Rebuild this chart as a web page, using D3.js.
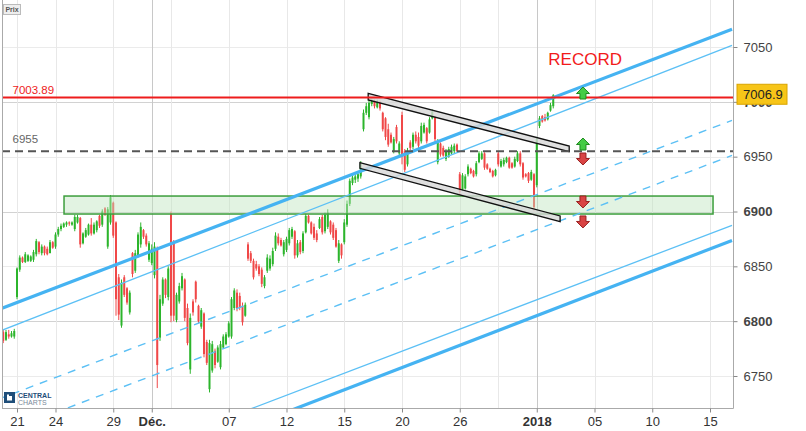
<!DOCTYPE html>
<html><head><meta charset="utf-8">
<script src="https://cdn.jsdelivr.net/npm/d3@7"></script>
<style>body{margin:0;background:#fff}svg{display:block;font-family:"Liberation Sans",Arial,sans-serif}</style>
</head><body><svg id="c" width="806" height="431"></svg>
<script>
// hourly bars [open, high, low, close], 7 bars per trading day, 20 Nov 2017 -> 2 Jan 2018
const candles = [
[6785,6790,6781,6788],[6788,6792,6783,6786],[6790,6792,6780,6782],[6783,6792,6782,6790],[6788,6792,6784,6786],[6786,6791,6785,6789],[6786,6793,6784,6791],
[6822,6849,6820,6848],[6847,6860,6845,6858],[6858,6859,6853,6854],[6854,6863,6853,6861],[6855,6861,6854,6860],[6855,6860,6854,6859],[6856,6865,6854,6863],
[6861,6875,6859,6873],[6872,6873,6861,6863],[6862,6870,6860,6868],[6868,6869,6860,6862],[6866,6868,6860,6861],[6862,6874,6862,6872],[6872,6873,6866,6867],
[6868,6881,6866,6879],[6879,6886,6877,6884],[6884,6889,6882,6887],[6886,6890,6885,6889],[6888,6891,6886,6890],[6890,6891,6887,6889],[6888,6891,6887,6890],
[6884,6897,6882,6895],[6890,6897,6889,6895],[6894,6895,6867,6870],[6871,6881,6870,6880],[6877,6885,6876,6883],[6879,6889,6878,6888],[6888,6894,6878,6880],
[6880,6890,6879,6888],[6883,6892,6881,6891],[6896,6897,6885,6887],[6888,6902,6886,6900],[6903,6904,6896,6897],[6868,6904,6866,6902],[6890,6915,6888,6913],
[6908,6909,6876,6878],[6890,6891,6805,6820],[6840,6843,6801,6806],[6796,6838,6794,6835],[6840,6842,6822,6824],[6830,6831,6815,6817],[6808,6828,6806,6826],
[6862,6863,6840,6843],[6846,6865,6844,6862],[6860,6881,6858,6879],[6870,6890,6867,6886],[6883,6884,6875,6877],[6878,6880,6868,6870],[6856,6873,6854,6871],
[6853,6870,6851,6866],[6842,6872,6839,6868],[6866,6868,6739,6760],[6785,6824,6782,6820],[6816,6840,6814,6838],[6838,6839,6821,6824],[6822,6850,6819,6848],
[6898,6900,6799,6805],[6872,6874,6800,6805],[6801,6826,6799,6824],[6818,6835,6816,6832],[6830,6844,6828,6841],[6838,6839,6800,6803],[6812,6816,6778,6780],
[6756,6807,6752,6803],[6818,6820,6805,6808],[6836,6837,6817,6820],[6814,6815,6798,6800],[6795,6812,6793,6810],[6807,6808,6767,6770],[6781,6783,6760,6762],
[6738,6783,6735,6780],[6755,6782,6753,6779],[6773,6775,6757,6760],[6763,6778,6762,6776],[6758,6782,6756,6779],[6776,6788,6775,6786],[6779,6790,6778,6788],
[6786,6800,6785,6798],[6786,6822,6784,6820],[6812,6830,6810,6828],[6826,6829,6809,6811],[6823,6826,6810,6812],[6814,6817,6796,6799],[6805,6817,6804,6815],
[6870,6872,6855,6857],[6862,6864,6853,6855],[6855,6857,6838,6840],[6852,6855,6846,6848],[6850,6852,6841,6843],[6847,6849,6831,6834],[6832,6842,6830,6840],
[6846,6861,6844,6858],[6848,6860,6846,6857],[6852,6867,6850,6864],[6866,6881,6864,6878],[6877,6880,6869,6871],[6874,6876,6868,6869],[6861,6874,6859,6872],
[6865,6877,6863,6875],[6871,6885,6869,6883],[6877,6886,6875,6884],[6882,6883,6857,6860],[6860,6874,6858,6871],[6872,6874,6861,6863],[6864,6882,6862,6880],
[6881,6898,6880,6896],[6896,6897,6889,6890],[6890,6891,6879,6880],[6886,6889,6874,6876],[6880,6883,6872,6874],[6885,6895,6884,6893],[6895,6897,6879,6881],
[6882,6899,6880,6897],[6886,6902,6884,6899],[6891,6892,6879,6881],[6888,6890,6874,6876],[6883,6885,6867,6868],[6855,6874,6853,6871],[6870,6871,6857,6860],
[6872,6893,6870,6890],[6888,6910,6886,6907],[6907,6930,6905,6928],[6926,6933,6924,6931],[6929,6934,6926,6932],[6930,6935,6927,6934],[6932,6946,6930,6944],
[6975,6993,6973,6990],[6990,6999,6988,6996],[6986,7002,6984,6999],[6998,7003,6996,7001],[7001,7002,6994,6996],[6995,7002,6994,7000],[7000,7001,6992,6994],
[6990,6991,6973,6975],[6985,6986,6965,6968],[6975,6980,6959,6961],[6970,6972,6962,6963],[6955,6968,6953,6966],[6977,6979,6962,6964],[6953,6964,6951,6962],
[6988,6991,6943,6950],[6955,6957,6936,6938],[6943,6958,6941,6955],[6963,6965,6956,6958],[6959,6972,6957,6970],[6970,6973,6962,6964],[6968,6972,6958,6960],
[6964,6981,6962,6978],[6972,6981,6971,6979],[6976,6977,6962,6964],[6972,6986,6971,6984],[6985,6993,6984,6991],[6986,6987,6964,6966],[6945,6966,6943,6963],
[6962,6963,6950,6952],[6958,6960,6950,6951],[6948,6957,6946,6955],[6950,6959,6949,6957],[6953,6961,6952,6959],[6955,6962,6953,6960],[6961,6962,6954,6955],
[6934,6936,6915,6918],[6920,6935,6919,6933],[6921,6934,6920,6932],[6934,6943,6932,6941],[6939,6940,6934,6935],[6937,6938,6931,6932],[6934,6946,6932,6944],
[6945,6955,6944,6953],[6948,6955,6947,6953],[6953,6954,6938,6940],[6943,6944,6938,6939],[6939,6940,6935,6936],[6937,6938,6931,6932],[6933,6939,6932,6938],
[6953,6955,6941,6943],[6941,6948,6940,6946],[6943,6949,6941,6947],[6945,6950,6944,6949],[6949,6950,6939,6940],[6944,6945,6939,6940],[6941,6950,6940,6948],
[6946,6955,6945,6953],[6953,6955,6941,6943],[6944,6945,6929,6931],[6934,6935,6931,6932],[6935,6936,6926,6928],[6929,6938,6928,6936],[6934,6935,6900,6904],
[6924,6968,6922,6966],[6978,6987,6976,6985],[6987,6988,6981,6982],[6986,6989,6982,6983],[6984,6991,6983,6990],[6992,6999,6991,6997],[6996,7007,6994,7006]
];
// x ticks: bar index of first bar of the day, label
const xTickBars   = [7, 21, 42, 56, 84, 105, 126, 147, 168, 196, 217, 238, 259];
const xTickLabels = ["21","24","29","Déc.","07","12","15","20","26","2018","05","10","15"];
const xBoldLabels = ["Déc.","2018"];
const xExtraGrid  = [63, 182];
const yTicks      = [6750, 6800, 6850, 6900, 6950, 7000, 7050];
const yBoldTicks  = [6800, 6900, 7000];
const recordLevel = 7003.89;
const supportLevel = 6955;
const lastPrice = 7006.9;
// trend lines: [bar, price] pairs
const upperThick = [[0,6810.3],[267,7066.2]];
const upperThin  = [[0,6790.25],[267,7051.45]];
const midDash1   = [[0,6728.6],[267,6983.1]];
const midDash2   = [[0,6696.7],[267,6951.1]];
const lowerThin  = [[0,6632.1],[267,6887.4]];
const lowerThick = [[0,6615.7],[267,6873.6]];
// descending bands (polygons in [bar, price])
const upperBand = [[134.7,7007.8],[207.8,6959.7],[207.8,6954.5],[134.7,7001.7]];
const lowerBand = [[131.7,6944.5],[204.5,6895.9],[204.5,6890.8],[131.7,6939.4]];
// support zone
const zoneBars = [24.1, 260.1];
const zonePrices = [6897.7, 6914.1];
// arrows: bar, tip price, direction
const arrowBars = [212.8, 212.8, 212.8, 212.8, 212.8];
const arrowTips = [7013.5, 6967.0, 6942.4, 6903.2, 6885.0];
const arrowDirs = ["up","up","down","down","down"];
const recordText = "RECORD";
const recordAt = [200.2, 7033.5];

const svg = d3.select("#c");
const L = 2, R = 733, T = 0, B = 408;
const x = d3.scaleLinear().domain([0, 267.36]).range([-2.25, 733]);
const y = d3.scaleLinear().domain([6750, 7050]).range([376, 47]);

svg.append("defs").append("clipPath").attr("id","clip")
  .append("rect").attr("x",L).attr("y",T).attr("width",R-L).attr("height",B-T);

// grid
const grid = svg.append("g");
grid.selectAll(".hg").data(yTicks).join("line")
  .attr("x1",L).attr("x2",R).attr("y1",d=>Math.round(y(d))+0.5).attr("y2",d=>Math.round(y(d))+0.5)
  .attr("stroke",d=>yBoldTicks.includes(d)?"#d2d2d2":"#ebebeb").attr("stroke-width",1);
const vg = xTickBars.map((b,i)=>({b,strong:xBoldLabels.includes(xTickLabels[i])})).concat(xExtraGrid.map(b=>({b,strong:false})));
grid.selectAll(".vg").data(vg).join("line")
  .attr("x1",d=>Math.round(x(d.b))+0.5).attr("x2",d=>Math.round(x(d.b))+0.5).attr("y1",T).attr("y2",B)
  .attr("stroke",d=>d.strong?"#c8c8c8":"#e8e8e8").attr("stroke-width",1);

const plot = svg.append("g").attr("clip-path","url(#clip)");

// candles
const up = "#2cb52c", dn = "#f04848";
const cg = plot.append("g");
cg.selectAll("line").data(candles).join("line")
  .attr("x1",(d,i)=>x(i)).attr("x2",(d,i)=>x(i))
  .attr("y1",d=>y(d[1])).attr("y2",d=>y(d[2]))
  .attr("stroke",d=>d[3]>=d[0]?up:dn).attr("stroke-width",1);
cg.selectAll("rect").data(candles).join("rect")
  .attr("x",(d,i)=>x(i)-1).attr("width",2)
  .attr("y",d=>y(Math.max(d[0],d[3])))
  .attr("height",d=>Math.max(1,Math.abs(y(d[0])-y(d[3]))))
  .attr("fill",d=>d[3]>=d[0]?up:dn);

// zone
plot.append("rect")
  .attr("x",x(zoneBars[0])).attr("width",x(zoneBars[1])-x(zoneBars[0]))
  .attr("y",y(zonePrices[1])).attr("height",y(zonePrices[0])-y(zonePrices[1]))
  .attr("fill","rgba(190,228,190,0.45)").attr("stroke","#3d9e3d").attr("stroke-width",1.5);

// trend lines
const lineGen = d3.line().x(d=>x(d[0])).y(d=>y(d[1]));
const trends = [
  {pts:upperThick, w:3.2, dash:null},
  {pts:upperThin,  w:1.3, dash:null},
  {pts:midDash1,   w:1.4, dash:"8,7"},
  {pts:midDash2,   w:1.4, dash:"8,7"},
  {pts:lowerThin,  w:1.3, dash:null},
  {pts:lowerThick, w:3.2, dash:null}
];
plot.selectAll(".tr").data(trends).join("path")
  .attr("d",d=>lineGen(d.pts)).attr("fill","none")
  .attr("stroke",d=>d.w>2?"#45b3f2":"#5cc0f5").attr("stroke-width",d=>d.w)
  .attr("stroke-dasharray",d=>d.dash);

// bands
plot.selectAll(".band").data([upperBand, lowerBand]).join("path")
  .attr("d",d=>lineGen(d)+"Z").attr("fill","rgba(215,215,215,0.8)")
  .attr("stroke","#111").attr("stroke-width",1.3);

// horizontal levels
plot.append("line").attr("x1",L).attr("x2",R).attr("y1",y(supportLevel)).attr("y2",y(supportLevel))
  .attr("stroke","#555").attr("stroke-width",2).attr("stroke-dasharray","8,5");
plot.append("line").attr("x1",L).attr("x2",R).attr("y1",y(recordLevel)).attr("y2",y(recordLevel))
  .attr("stroke","#ee1c1c").attr("stroke-width",2);

// arrows
const ag = plot.append("g");
arrowTips.forEach((p,i)=>{
  const cx = x(arrowBars[i]), ty = y(p), s = arrowDirs[i]==="up"?1:-1;
  const pts = [[0,0],[6.5,6.5],[3,6.5],[3,12],[-3,12],[-3,6.5],[-6.5,6.5]].map(q=>[cx+q[0], ty+s*q[1]]);
  ag.append("path").attr("d","M"+pts.map(q=>q.join(",")).join("L")+"Z")
    .attr("fill",s>0?"#45cc45":"#d94444").attr("stroke",s>0?"#208a20":"#9a2020").attr("stroke-width",1);
});

// texts on plot
svg.append("text").attr("x",12.5).attr("y",y(recordLevel)-4).attr("fill","#ee1c1c")
  .attr("font-size","11.5px").text(String(recordLevel));
svg.append("text").attr("x",12.5).attr("y",y(supportLevel)-8).attr("fill","#666")
  .attr("font-size","11.5px").text(String(supportLevel));
svg.append("text").attr("x",x(recordAt[0])).attr("y",y(recordAt[1])).attr("fill","#f21b1b")
  .attr("font-size","17px").text(recordText);

// frame
svg.append("line").attr("x1",L+0.5).attr("x2",L+0.5).attr("y1",0).attr("y2",B).attr("stroke","#aaa");
svg.append("line").attr("x1",R+0.5).attr("x2",R+0.5).attr("y1",0).attr("y2",B+0.5).attr("stroke","#aaa");
svg.append("line").attr("x1",L).attr("x2",R+0.5).attr("y1",B+0.5).attr("y2",B+0.5).attr("stroke","#aaa");

// right axis
const ya = svg.append("g").attr("transform",`translate(${R+0.5},0)`)
  .call(d3.axisRight(y).tickValues(yTicks).tickSize(4).tickPadding(6).tickFormat(d3.format("d")));
ya.select(".domain").remove();
ya.selectAll("line").attr("stroke","#888");
ya.selectAll("text").attr("font-size","13px").attr("fill","#444").attr("font-family",null)
  .attr("font-weight",d=>yBoldTicks.includes(d)?"bold":"normal");

// bottom axis
const xa = svg.append("g").attr("transform",`translate(0,${B+0.5})`)
  .call(d3.axisBottom(x).tickValues(xTickBars).tickSize(4).tickPadding(4).tickFormat((d,i)=>xTickLabels[i]));
xa.select(".domain").remove();
xa.selectAll("line").attr("stroke","#888");
xa.selectAll("text").attr("font-size","13px").attr("fill","#333").attr("font-family",null)
  .attr("font-weight",(d,i)=>xBoldLabels.includes(xTickLabels[i])?"bold":"normal");

// last price box
const ly = y(lastPrice);
svg.append("rect").attr("x",737).attr("y",ly-10).attr("width",50).attr("height",20)
  .attr("fill","#f7c518").attr("stroke","#d9a400");
svg.append("text").attr("x",743).attr("y",ly+4.5).attr("font-size","13px").attr("fill","#222").text(String(lastPrice));

// "Prix" button
svg.append("rect").attr("x",3.5).attr("y",4.5).attr("width",17).attr("height",10).attr("fill","#eeeeee").attr("stroke","#bbb");
svg.append("text").attr("x",12).attr("y",12.3).attr("text-anchor","middle").attr("font-size","7px").attr("font-weight","bold").attr("fill","#555").text("Prix");

// logo
const lg = svg.append("g");
lg.append("rect").attr("x",4).attr("y",392).attr("width",11).attr("height",11).attr("fill","#1f4e79");
lg.append("rect").attr("x",7).attr("y",394.5).attr("width",5).attr("height",6).attr("fill","#fff");
lg.append("rect").attr("x",9).attr("y",392).attr("width",3).attr("height",4).attr("fill","#1f4e79");
lg.append("text").attr("x",18).attr("y",397.5).attr("font-size","7px").attr("font-weight","bold").attr("fill","#1f4e79").text("CENTRAL");
lg.append("text").attr("x",18).attr("y",404.5).attr("font-size","7px").attr("fill","#7a8a9a").text("CHARTS");
</script></body></html>
